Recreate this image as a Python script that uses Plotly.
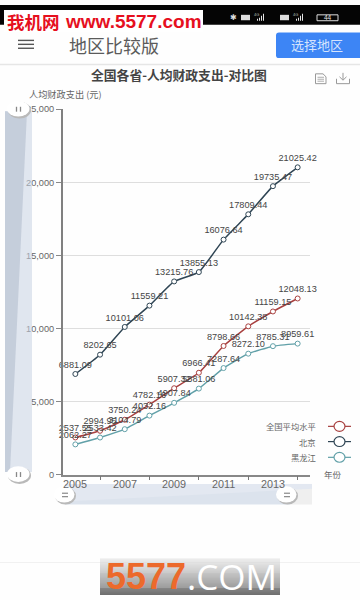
import plotly.graph_objects as go

years = [2005, 2006, 2007, 2008, 2009, 2010, 2011, 2012, 2013, 2014]
national = [2537.55, 2994.95, 3750.24, 4782.16, 5907.32, 6966.41, 8798.66, 10142.38, 11159.15, 12048.13]
beijing = [6881.09, 8202.65, 10101.06, 11559.21, 13215.76, 13855.13, 16076.64, 17809.44, 19735.47, 21025.42]
heilongjiang = [2062.27, 2533.42, 3104.79, 4032.16, 4907.84, 5881.06, 7287.64, 8272.10, 8785.31, 8959.61]
series_names = ["全国平均水平", "北京", "黑龙江"]
series_colors = ["#a8403f", "#2f4554", "#61a0a8"]
x_tick_years = [2005, 2007, 2009, 2011, 2013]
y_ticks = [0, 5000, 10000, 15000, 20000, 25000]

W, H = 360, 600
CJK = "Noto Sans CJK SC"
LAT = "Liberation Sans"
def px(v): return v / W
def py(v): return 1 - v / H

shapes, notes = [], []
def rect(x0, y0, x1, y1, fill, line=None, lw=0):
    shapes.append(dict(type="rect", xref="paper", yref="paper", x0=px(x0), x1=px(x1), y0=py(y0), y1=py(y1),
                       fillcolor=fill, line=dict(color=line or fill, width=lw), layer="above"))
def oval(x0, y0, x1, y1, fill, line=None, lw=0):
    shapes.append(dict(type="circle", xref="paper", yref="paper", x0=px(x0), x1=px(x1), y0=py(y0), y1=py(y1),
                       fillcolor=fill, line=dict(color=line or fill, width=lw), layer="above"))
def seg(x0, y0, x1, y1, color, lw=1):
    shapes.append(dict(type="line", xref="paper", yref="paper", x0=px(x0), x1=px(x1), y0=py(y0), y1=py(y1),
                       line=dict(color=color, width=lw), layer="above"))
def poly(points, fill):
    d = "M" + " L".join(f"{px(a):.5f},{py(b):.5f}" for a, b in points) + " Z"
    shapes.append(dict(type="path", xref="paper", yref="paper", path=d, fillcolor=fill,
                       line=dict(width=0), layer="above"))
def note(x, y, text, size, color, family=CJK, anchor="center"):
    notes.append(dict(xref="paper", yref="paper", x=px(x), y=py(y), text=text, showarrow=False,
                      xanchor=anchor, yanchor="middle", align=anchor,
                      font=dict(size=size, color=color, family=family)))

# status bar and top watermark
rect(0, 0, 360, 20, "#050505")
rect(4, 5, 203, 27, "#ffffff")
note(5, 16.5, "<b>我机网</b>", 17.5, "#e60f1e", CJK, "left")
note(63, 16.5, "<b>www.5577.com</b>", 19, "#e60f1e", LAT, "left")
note(233, 12.5, "✱", 8, "#dddddd", "DejaVu Sans")
for hx in (241, 280):
    rect(hx, 10, hx + 9, 15.5, "#dddddd")
    for i, bar_h in enumerate((2, 3, 5, 7)):
        rect(hx + 16 + i * 2, 16 - bar_h, hx + 17 + i * 2, 16, "#e6e6e6")
    note(hx + 15, 9.5, "4G", 4, "#bbbbbb", LAT)
shapes.append(dict(type="rect", xref="paper", yref="paper", x0=px(317), x1=px(338), y0=py(10), y1=py(16),
                   line=dict(color="#dddddd", width=1), fillcolor="#050505", layer="above"))
note(327.5, 13, "44", 6.5, "#e8e8e8", LAT)

# app header
for hy in (36, 40, 44):
    seg(18, hy, 34, hy, "#555555", 1.4)
note(67, 40.5, "地区比较版", 18, "#5b5b5b", CJK, "left")
shapes.append(dict(type="path", xref="paper", yref="paper", fillcolor="#3d85f5", line=dict(width=0), layer="above",
                   path=f"M{px(279)},{py(28)} L{px(360)},{py(28)} L{px(360)},{py(54)} L{px(279)},{py(54)} "
                        f"Q{px(276)},{py(54)} {px(276)},{py(51)} L{px(276)},{py(31)} Q{px(276)},{py(28)} {px(279)},{py(28)} Z"))
note(317, 40, "选择地区", 13, "#d5e4fd", CJK)
seg(0, 60.5, 360, 60.5, "#e6e6e6", 1.5)

# title and toolbox
note(179, 71, "<b>全国各省-人均财政支出-对比图</b>", 12.8, "#444444")
note(27, 91, "人均财政支出 (元)", 9.2, "#666666", CJK, "left")
shapes.append(dict(type="path", xref="paper", yref="paper", fillcolor="rgba(0,0,0,0)",
                   line=dict(color="#999999", width=1), layer="above",
                   path=f"M{px(315.5)},{py(70)} L{px(323)},{py(70)} L{px(326)},{py(73)} L{px(326)},{py(80)} L{px(315.5)},{py(80)} Z"))
for hy in (73.5, 75.5, 77.5):
    seg(317.5, hy, 324, hy, "#999999", 0.8)
seg(343, 69, 343, 76, "#999999", 1)
seg(339.5, 73, 343, 76.5, "#999999", 1)
seg(346.5, 73, 343, 76.5, "#999999", 1)
seg(336.5, 75, 336.5, 80, "#999999", 1)
seg(336.5, 80, 349.5, 80, "#999999", 1)
seg(349.5, 75, 349.5, 80, "#999999", 1)

# vertical data-zoom (translucent so the tick labels show through, as in the reference)
rect(5, 108, 32, 475, "rgba(198,209,226,0.55)")
poly([(5, 108), (27, 108), (10, 475), (5, 475)], "rgba(170,182,200,0.5)")
for hx, hy in ((19, 106.5), (19, 478)):
    oval(hx - 11, hy - 8, hx + 12, hy + 9, "#b9b9b9")
    oval(hx - 12, hy - 9, hx + 10.5, hy + 7, "#ffffff")
    seg(hx - 2.5, hy - 3, hx - 2.5, hy + 2, "#888888", 1.3)
    seg(hx + 1.5, hy - 3, hx + 1.5, hy + 2, "#888888", 1.3)

# horizontal data-zoom
rect(65, 487, 290, 508, "#dce3ed")
rect(290, 487, 312, 508, "#efefef")
poly([(65, 487), (312, 487), (312, 492), (65, 505)], "#e3e8f1")
for hx, hy in ((65, 498.5), (287, 498.5)):
    oval(hx - 10, hy - 8, hx + 11, hy + 9.5, "#b9b9b9")
    oval(hx - 11, hy - 9, hx + 9.5, hy + 7.5, "#ffffff")
    seg(hx - 3, hy - 2, hx + 3, hy - 2, "#888888", 1.2)
    seg(hx - 3, hy + 1.5, hx + 3, hy + 1.5, "#888888", 1.2)

# x tick labels sit on top of the slider in the reference
for yr in x_tick_years:
    note(63 + (yr - 2004.5) * 24.7, 487, str(yr), 10.8, "#666666", LAT)

# legend and axis name
for name, color, ly in zip(series_names, series_colors, (428.5, 444, 460)):
    note(318, ly, name, 8.3, "#666666", CJK, "right")
    seg(328, ly, 351, ly, color, 1.2)
    oval(334, ly - 5, 345, ly + 5, "#ffffff", color, 1.2)
note(333, 477, "年份", 8.5, "#666666")

# footer
seg(0, 567, 360, 567, "#f1f1f1", 1)
steps = 37
for i in range(steps):
    t = i / (steps - 1)
    g = int(232 - (232 - 112) * t)
    rect(100, 563 + i, 280, 564 + i, f"rgb({g},{g},{g})")
note(146, 581, "<b>5577</b>", 36, "#ec6a2c", LAT)
note(232, 581, ".COM", 35, "#ffffff", "Open Sans")

fig = go.Figure()
for name, values, color in zip(series_names, (national, beijing, heilongjiang), series_colors):
    fig.add_trace(go.Scatter(
        x=years, y=values, name=name, mode="lines+markers+text",
        text=[f"{v:.2f}" for v in values], textposition="top center",
        textfont=dict(size=9.2, color="#454545", family=LAT),
        line=dict(color=color, width=1.5, shape="spline", smoothing=0.4),
        marker=dict(size=5, color="#ffffff", line=dict(color=color, width=1)),
        cliponaxis=False, showlegend=False))

fig.update_layout(
    width=W, height=H, autosize=False,
    paper_bgcolor="#fefefe", plot_bgcolor="#fefefe",
    margin=dict(l=0, r=0, t=0, b=0), showlegend=False,
    shapes=shapes, annotations=notes,
    xaxis=dict(domain=[px(63), px(310)], range=[2004.5, 2014.5], tickmode="array",
               tickvals=x_tick_years, showticklabels=False, ticks="",
               minor=dict(ticks="outside", tick0=2006, dtick=2, ticklen=4, tickcolor="#777777", showgrid=False),
               showgrid=False, zeroline=False, showline=True, linecolor="#888888", linewidth=1.5),
    yaxis=dict(domain=[py(477.5), py(106)], range=[0, 25000], tickmode="array", tickvals=y_ticks,
               tickformat=",d", ticks="outside", ticklen=5, tickcolor="#888888",
               showgrid=True, gridcolor="#dedede", gridwidth=1, zeroline=False,
               showline=True, linecolor="#808080", linewidth=2,
               tickfont=dict(size=9.2, color="#666666", family=LAT)),
)
fig.write_html("out.html", config=dict(displayModeBar=False),
               post_script="document.body.style.margin='0';document.documentElement.style.overflow='hidden';")
